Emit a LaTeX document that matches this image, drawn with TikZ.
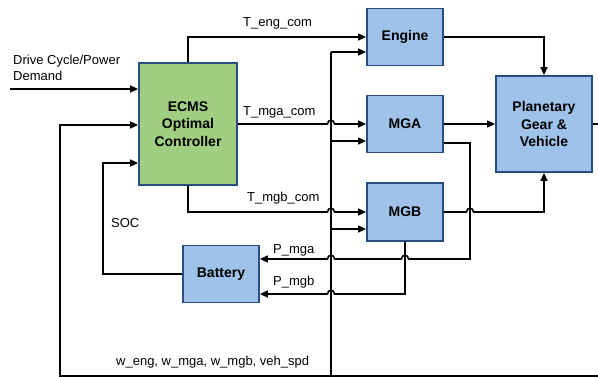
\documentclass[tikz,border=0pt]{standalone}
\usepackage{fontspec}
\setmainfont{Liberation Sans}
\usetikzlibrary{arrows.meta}
\definecolor{ctrlgreen}{RGB}{160,207,130}
\definecolor{blockblue}{RGB}{158,194,234}
\definecolor{edgeblue}{RGB}{38,78,128}
\tikzset{
  block/.style={draw=edgeblue, line width=1.8pt, fill=blockblue, align=center,
    font=\fontsize{14}{17.5}\selectfont\bfseries, inner sep=0pt},
  sig/.style={line width=1.6pt, draw=black},
  arr/.style={sig, -{Triangle[length=8pt,width=7pt]}},
  lbl/.style={font=\fontsize{13}{16}\selectfont, inner sep=0pt, anchor=west},
  % small bump where a horizontal signal crosses a vertical one
  hopR/.style args={#1/#2}{insert path={-- (#1-3.5,#2) .. controls (#1-3.5,#2-5) and (#1+3.5,#2-5) .. (#1+3.5,#2)}},
  hopL/.style args={#1/#2}{insert path={-- (#1+3.5,#2) .. controls (#1+3.5,#2-5) and (#1-3.5,#2-5) .. (#1-3.5,#2)}}
}
\begin{document}
\begin{tikzpicture}[x=1pt, y=-1pt]
\useasboundingbox (0,0) rectangle (598,377);

% blocks
\node[block, fill=ctrlgreen, minimum width=98pt, minimum height=122pt] (ecms) at (188,124) {ECMS\\Optimal\\Controller};
\node[block, minimum width=76pt, minimum height=57pt] (engine) at (405,37) {Engine};
\node[block, minimum width=76pt, minimum height=57pt] (mga) at (405,124) {MGA};
\node[block, minimum width=76pt, minimum height=58pt] (mgb) at (405,212) {MGB};
\node[block, minimum width=96pt, minimum height=96pt] (pgv) at (544,124) {Planetary\\Gear \&\\Vehicle};
\node[block, minimum width=76pt, minimum height=57pt] (batt) at (221,274) {Battery};

% free ends and bends
\coordinate (dc) at (10,89);
\coordinate (outR) at (598,124);
\coordinate (botR) at (598,376);
\coordinate (botL) at (60,376);
\coordinate (fbL) at (60,125);
\coordinate (busB) at (331,376);
\coordinate (busT) at (331,52);
\coordinate (socL) at (103,274);
\coordinate (socT) at (103,163);

% drive cycle demand
\draw[arr] (dc) -- (ecms.west |- dc);

% speed feedback bus
\draw[sig] (pgv.east) -- (outR);
\draw[arr] (botR) -- (botL) -- (fbL) -- (ecms.west |- fbL);
\draw[sig] (busB) -- (busT);
\draw[arr] (busT) -- (engine.west |- busT);
\draw[arr] (331,141) -- (mga.west |- 0,141);
\draw[arr] (331,229) -- (mgb.west |- 0,229);

% torque commands
\draw[arr] (ecms.north) |- (engine.west);
\draw[arr] (ecms.east) [hopR=331/124] -- (mga.west);
\draw[arr] (ecms.south) -- (188,212) [hopR=331/212] -- (mgb.west);

% state of charge
\draw[arr] (batt.west) -- (socL) -- (socT) -- (ecms.west |- socT);

% powertrain to vehicle
\draw[arr] (engine.east) -| (pgv.north);
\draw[arr] (mga.east) -- (pgv.west);
\draw[arr] (mgb.east) [hopR=470/212] -| (pgv.south);

% electrical power to battery
\draw[arr] (mga.east |- 0,143) -- (470,143) -- (470,259) [hopL=405/259] [hopL=331/259] -- (batt.east |- 0,259);
\draw[arr] (mgb.south) -- (405,294) [hopL=331/294] -- (batt.east |- 0,294);

% labels
\node[lbl, anchor=north west, align=left] (dclbl) at (13,55) {Drive Cycle/Power\\Demand};
\node[lbl] (teng) at (243,23) {T\_eng\_com};
\node[lbl] (tmga) at (243,112) {T\_mga\_com};
\node[lbl] (tmgb) at (247,198) {T\_mgb\_com};
\node[lbl] (soc) at (111,223) {SOC};
\node[lbl] (pmga) at (273,250) {P\_mga};
\node[lbl] (pmgb) at (273,282) {P\_mgb};
\node[lbl] (wlbl) at (116,362) {w\_eng, w\_mga, w\_mgb, veh\_spd};
\end{tikzpicture}
\end{document}
